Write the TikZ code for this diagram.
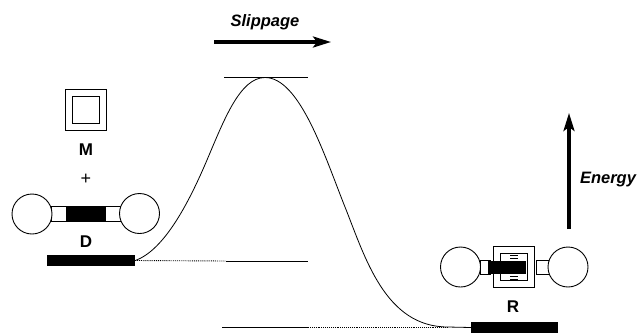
\documentclass[tikz,border=0pt]{standalone}
\usepackage{fontspec}
\setmainfont{Liberation Sans}
\usetikzlibrary{arrows.meta}
\tikzset{
  lbl/.style={font=\fontsize{17}{17}\selectfont\bfseries, inner sep=0pt},
  axlbl/.style={font=\fontsize{16.5}{16.5}\selectfont\bfseries\itshape, inner sep=0pt},
  ball/.style={circle, draw, line width=0.9pt, fill=white, minimum size=40pt, inner sep=0pt},
  levelbar/.style={rectangle, fill=black, minimum width=88pt, minimum height=11.5pt, inner sep=0pt},
  core/.style={rectangle, fill=black, inner sep=0pt},
  stub/.style={rectangle, draw, line width=0.9pt, fill=white, inner sep=0pt},
  ring/.style={rectangle, draw, line width=0.9pt, fill=white, inner sep=0pt},
  axis/.style={-{Stealth[length=18pt,width=11pt,inset=4pt]}, line width=3.2pt},
}
\begin{document}
\begin{tikzpicture}[x=1pt, y=-1pt]
    \useasboundingbox (0,0) rectangle (639,333);

    % levels
    \coordinate (T0) at (224,77.5);
    \coordinate (T1) at (308,77.5);
    \coordinate (C0) at (226,261);
    \coordinate (C1) at (308,261);
    \coordinate (B0) at (222,327);
    \coordinate (B1) at (308,327);
    \coordinate (P) at (265,77.5);

    \node[levelbar] (levelD) at (91,260.5) {};
    \node[levelbar, minimum width=87pt] (levelR) at (514.5,327.5) {};

    \draw[line width=0.8pt] (T0) -- (T1);
    \draw[line width=0.8pt] (C0) -- (C1);
    \draw[line width=1pt] (B0) -- (B1);
    \draw[densely dotted, line width=0.9pt] (levelD.east) -- (C0);
    \draw[densely dotted, line width=0.9pt] (B1) -- (448,327);

    % profile
    \draw[line width=0.8pt] (levelD.east) .. controls (165,250) and (190,200) .. (207,160)
        .. controls (224,120) and (240,77.5) .. (P)
        .. controls (300,77.5) and (325,157) .. (345,207)
        .. controls (365,257) and (385,327) .. (448,327) -- (levelR.west);

    % arrows
    \coordinate (S0) at (214,42);
    \coordinate (S1) at (331,42);
    \coordinate (E0) at (569,229);
    \coordinate (E1) at (569,113);
    \draw[axis] (S0) -- (S1);
    \draw[axis] (E0) -- (E1);
    \node[axlbl] (slip) at (265,22) {Slippage};
    \node[axlbl] (energy) at (608,180) {Energy};

    % M
    \node[ring, minimum size=41pt] (Mout) at (85.5,110) {};
    \node[ring, minimum size=27pt] (Min) at (85.5,110) {};
    \node[lbl] (Mlab) at (86,150) {M};
    \node[font=\fontsize{18}{18}\selectfont, inner sep=0pt] (plus) at (86,179) {+};

    % D
    \node[stub, minimum width=70pt, minimum height=15pt] (Dstub) at (86,213.5) {};
    \node[core, minimum width=40pt, minimum height=15pt] (Dcore) at (86,213.5) {};
    \node[ball] (Dl) at (32,214) {};
    \node[ball] (Dr) at (139.5,213.5) {};
    \node[lbl] (Dlab) at (86,242) {D};

    % R
    \node[ball] (Rl) at (460.5,267) {};
    \node[stub, minimum width=10pt, minimum height=14pt] (Rsl) at (485,267) {};
    \node[stub, minimum width=14pt, minimum height=14pt] (Rsr) at (543,267) {};
    \node[ball] (Rr) at (568,267) {};
    \node[ring, minimum size=41pt] (Rout) at (513.5,267) {};
    \node[ring, minimum width=27pt, minimum height=27pt] (Rin) at (514,266.5) {};
    \draw[line width=0.7pt] (510,255) -- (518,255) (510,258) -- (518,258)
        (510,276) -- (518,276) (510,279) -- (518,279);
    \node[core, minimum width=38pt, minimum height=13pt] (Rcore) at (507,267) {};
    \node[lbl] (Rlab) at (513,307) {R};
\end{tikzpicture}
\end{document}
